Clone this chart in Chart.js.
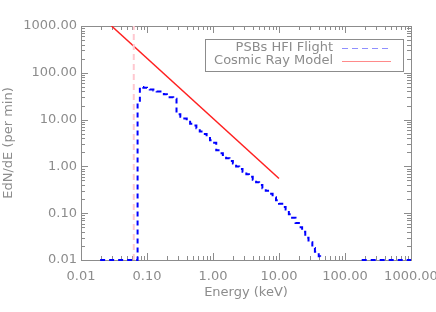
<!DOCTYPE html>
<html>
<head>
<meta charset="utf-8">
<script src="https://cdn.jsdelivr.net/npm/chart.js@4/dist/chart.umd.min.js"></script>
<style>
  html, body { margin: 0; padding: 0; background: #fff; }
  #wrap { width: 436px; height: 312px; }
</style>
</head>
<body>
<div id="wrap"><canvas id="chart" width="436" height="312"></canvas></div>
<script>
// values
var tickValues = [0.01, 0.1, 1, 10, 100, 1000];
var tickLabels = ["0.01", "0.10", "1.00", "10.00", "100.00", "1000.00"];

// PSBs HFI flight histogram: bin start energy (keV) and EdN/dE
var flightEnergy = [0.0195, 0.072, 0.078, 0.088, 0.1, 0.11, 0.125, 0.14, 0.16, 0.18, 0.2, 0.22, 0.25,
    0.28, 0.32, 0.35, 0.4, 0.45, 0.5, 0.56, 0.63, 0.71, 0.8, 0.9, 1.0, 1.12, 1.26, 1.41, 1.58, 1.78,
    2.0, 2.24, 2.5, 2.8, 3.2, 3.5, 4.0, 4.5, 5.0, 5.6, 6.3, 7.1, 8.0, 9.0, 10, 11.2, 12.6, 14.1,
    15.8, 17.8, 20, 22.4, 25, 28, 32, 35, 40, 42, 100, 179, 1000];
var flightRate = [0.01, 23, 50, 48, 46, 44, 42, 40, 37, 35, 32, 30, 28,
    13, 11.5, 10.5, 9.5, 8.2, 7.5, 6.5, 5.6, 4.9, 4.3, 3.6, 3.2, 2.2, 1.9, 1.75, 1.5, 1.3,
    1.15, 1.0, 0.88, 0.77, 0.68, 0.6, 0.52, 0.46, 0.4, 0.34, 0.3, 0.26, 0.22, 0.19, 0.16, 0.135, 0.12, 0.095,
    0.08, 0.062, 0.05, 0.04, 0.03, 0.024, 0.018, 0.015, 0.012, 0.01, null, 0.01, 0.01];

// cosmic ray model (straight power law)
var modelEnergy = [0.029, 10];
var modelRate = [1000, 0.55];

// threshold marker
var thresholdEnergy = [0.063, 0.063];
var thresholdRate = [0.01, 1000];

var legendNames = ["PSBs HFI Flight", "Cosmic Ray Model"];

var gray = "#8c8c8c";
var fontFamily = "'DejaVu Sans', sans-serif";

function pts(xs, ys) {
    var out = [];
    for (var i = 0; i < xs.length; i++) out.push({ x: xs[i], y: ys[i] });
    return out;
}

// box and inward ticks on all four sides, under the data
var frame = {
    id: "frame",
    beforeDatasetsDraw: function (chart) {
        var ctx = chart.ctx, a = chart.chartArea;
        var xs = chart.scales.x, ys = chart.scales.y;
        ctx.save();
        ctx.strokeStyle = gray;
        ctx.lineWidth = 1;
        ctx.strokeRect(a.left + 0.5, a.top + 0.5, a.right - a.left, a.bottom - a.top);

        ctx.beginPath();
        for (var d = -2; d <= 3; d++) {
            for (var m = 1; m <= 9; m++) {
                var v = m * Math.pow(10, d);
                if (v > 1000) break;
                var len = (m === 1) ? 7 : 4;
                var px = Math.round(xs.getPixelForValue(v)) + 0.5;
                ctx.moveTo(px, a.bottom); ctx.lineTo(px, a.bottom - len);
                ctx.moveTo(px, a.top); ctx.lineTo(px, a.top + len);
                var py = Math.round(ys.getPixelForValue(v)) + 0.5;
                ctx.moveTo(a.left, py); ctx.lineTo(a.left + len, py);
                ctx.moveTo(a.right, py); ctx.lineTo(a.right - len, py);
            }
        }
        ctx.stroke();
        ctx.restore();
    },
    // legend box
    afterDraw: function (chart) {
        var ctx = chart.ctx;
        ctx.save();
        ctx.strokeStyle = gray;
        ctx.lineWidth = 1;
        ctx.strokeRect(205.5, 39.5, 198, 32);
        ctx.font = "13px " + fontFamily;
        ctx.fillStyle = gray;
        ctx.textAlign = "right";
        ctx.textBaseline = "middle";
        ctx.fillText(legendNames[0], 333, 48);
        ctx.fillText(legendNames[1], 333, 61);

        ctx.strokeStyle = "#8f8fff";
        ctx.setLineDash([6, 4]);
        ctx.beginPath(); ctx.moveTo(342, 48.5); ctx.lineTo(388, 48.5); ctx.stroke();
        ctx.setLineDash([]);
        ctx.strokeStyle = "#ff8a8a";
        ctx.beginPath(); ctx.moveTo(342, 61.5); ctx.lineTo(391, 61.5); ctx.stroke();
        ctx.restore();
    }
};

new Chart(document.getElementById("chart"), {
    type: "line",
    data: {
        datasets: [
            {
                label: "threshold",
                data: pts(thresholdEnergy, thresholdRate),
                borderColor: "#ffc8d0",
                borderWidth: 2,
                borderDash: [6, 4],
                pointRadius: 0
            },
            {
                label: legendNames[1],
                data: pts(modelEnergy, modelRate),
                borderColor: "#ff2020",
                borderWidth: 1.5,
                pointRadius: 0
            },
            {
                label: legendNames[0],
                data: pts(flightEnergy, flightRate),
                borderColor: "#0000ff",
                borderWidth: 2,
                borderDash: [5, 4],
                stepped: true,
                spanGaps: false,
                clip: 3,
                pointRadius: 0
            }
        ]
    },
    options: {
        responsive: false,
        animation: false,
        layout: { padding: { top: 26, right: 25, left: 0, bottom: 0 } },
        plugins: { legend: { display: false }, tooltip: { enabled: false } },
        scales: {
            x: {
                type: "logarithmic",
                min: 0.01, max: 1000,
                grid: { display: false, drawTicks: false },
                border: { display: false },
                afterBuildTicks: function (s) { s.ticks = tickValues.map(function (v) { return { value: v }; }); },
                afterFit: function (s) { s.height = 52; s.paddingLeft = 0; s.paddingRight = 0; },
                ticks: {
                    autoSkip: false, maxRotation: 0, padding: 9,
                    color: gray, font: { family: fontFamily, size: 13 },
                    callback: function (v) { var i = tickValues.indexOf(v); return i < 0 ? "" : tickLabels[i]; }
                },
                title: {
                    display: true, text: "Energy (keV)", color: gray,
                    font: { family: fontFamily, size: 13 }, padding: { top: 0, bottom: 12 }
                }
            },
            y: {
                type: "logarithmic",
                min: 0.01, max: 1000,
                grid: { display: false, drawTicks: false },
                border: { display: false },
                afterBuildTicks: function (s) { s.ticks = tickValues.map(function (v) { return { value: v }; }); },
                afterFit: function (s) { s.width = 81; s.paddingTop = 0; s.paddingBottom = 0; },
                ticks: {
                    autoSkip: false, padding: 4,
                    color: gray, font: { family: fontFamily, size: 13 },
                    callback: function (v) { var i = tickValues.indexOf(v); return i < 0 ? "" : tickLabels[i]; }
                },
                title: {
                    display: true, text: "EdN/dE (per min)", color: gray,
                    font: { family: fontFamily, size: 13 }, padding: { top: 1, bottom: 0 }
                }
            }
        }
    },
    plugins: [frame]
});
</script>
</body>
</html>
